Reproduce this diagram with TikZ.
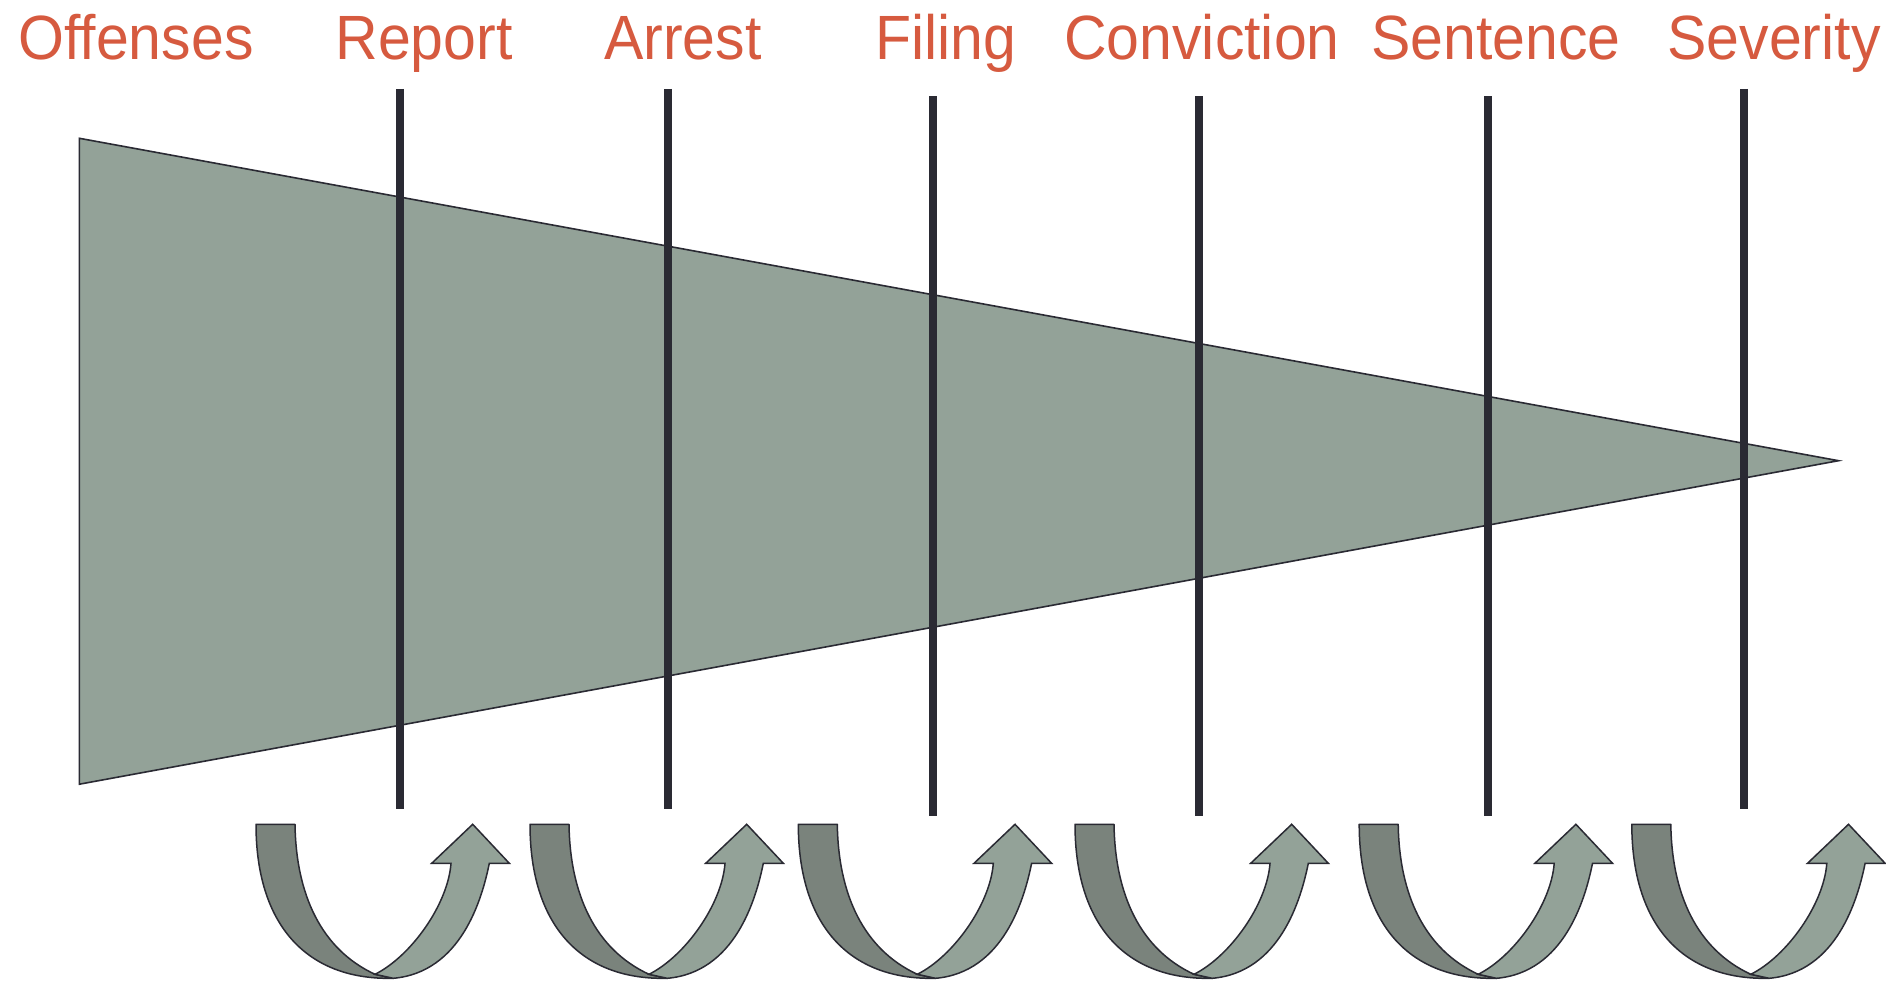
\documentclass[tikz,border=0pt]{standalone}
\usepackage{fontspec}
\setmainfont{Liberation Sans}
\definecolor{txtred}{HTML}{D65A3F}
\definecolor{funnel}{HTML}{93A298}
\definecolor{darkpiece}{HTML}{7A837C}
\definecolor{edge}{HTML}{2A2A33}
\newcommand{\tallertext}[1]{\scalebox{1}[1.06]{#1}}
\tikzset{
  lbl/.style={anchor=base, text=txtred, inner sep=0pt, font=\fontsize{59}{61}\selectfont},
  stage/.style={draw=edge, line width=8pt},
  funnelshape/.style={fill=funnel, draw=edge, line width=1.6pt, line join=miter},
  backpiece/.style={fill=darkpiece, draw=edge, line width=1.5pt, line join=round},
  frontpiece/.style={fill=funnel, draw=edge, line width=1.5pt, line join=miter},
  uarrow/.pic={
    \path[backpiece] (0,0) .. controls (0,100) and (50,156) .. (137.3,154)
      -- (119,150) .. controls (65,125) and (40,70) .. (39,0) -- cycle;
    \path[frontpiece] (119,150) .. controls (155,132) and (192,80) .. (195,39)
      -- (175.7,39) -- (216.7,0) -- (253.3,39) -- (233.3,39)
      .. controls (226,75) and (205,148) .. (137.3,154) -- cycle;
  }
}
\begin{document}
\begin{tikzpicture}[x=1pt, y=-1pt]
\useasboundingbox[fill=white] (0,0) rectangle (1886,981);
% funnel
\coordinate (tl) at (79.4,138.3);
\coordinate (bl) at (79.4,784.2);
\coordinate (tip) at (1838.5,460.7);
\path[funnelshape] (tl) -- (tip) -- (bl) -- cycle;
% labels
\node[lbl] (offenses) at (136,59.5) {\tallertext{Offenses}};
\node[lbl] (report) at (424,59.5) {\tallertext{Report}};
\node[lbl] (arrest) at (683,59.5) {\tallertext{Arrest}};
\node[lbl] (filing) at (946,59.5) {\tallertext{Filing}};
\node[lbl] (conviction) at (1202,59.5) {\tallertext{Conviction}};
\node[lbl] (sentence) at (1496,59.5) {\tallertext{Sentence}};
\node[lbl] (severity) at (1774,59.5) {\tallertext{Severity}};
% stage lines
\coordinate (l1t) at (399.5,89); \coordinate (l1b) at (399.5,808.5);
\coordinate (l2t) at (667.6,89); \coordinate (l2b) at (667.6,808.5);
\coordinate (l3t) at (933.4,96.2); \coordinate (l3b) at (933.4,815.5);
\coordinate (l4t) at (1199.2,96.2); \coordinate (l4b) at (1199.2,815.5);
\coordinate (l5t) at (1487.9,96.2); \coordinate (l5b) at (1487.9,815.5);
\coordinate (l6t) at (1744.1,89); \coordinate (l6b) at (1744.1,808.5);
\foreach \i in {1,...,6} { \draw[stage] (l\i t) -- (l\i b); }
% recycling arrows
\pic (a1) at (256,824.3) {uarrow};
\pic (a2) at (530,824.3) {uarrow};
\pic (a3) at (798.3,824.3) {uarrow};
\pic (a4) at (1075,824.3) {uarrow};
\pic (a5) at (1359.2,824.3) {uarrow};
\pic (a6) at (1631.8,824.3) {uarrow};
\end{tikzpicture}
\end{document}
